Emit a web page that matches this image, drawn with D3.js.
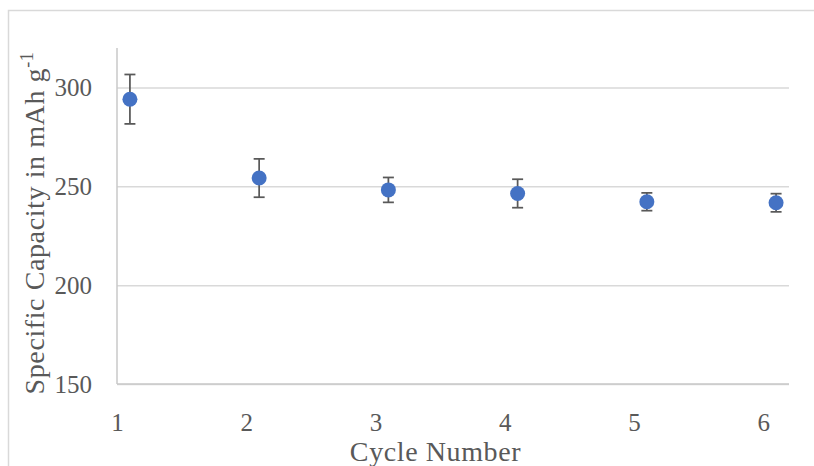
<!DOCTYPE html>
<html>
<head>
<meta charset="utf-8">
<script src="https://cdn.jsdelivr.net/npm/d3@7"></script>
<style>
  html, body { margin: 0; padding: 0; background: #fff; }
  svg { display: block; }
  text { font-family: "Liberation Serif", "Times New Roman", serif; fill: #595959; }
</style>
</head>
<body>
<svg id="chart" width="814" height="466"></svg>
<script>
// Mean specific capacity per cycle with its spread
const cycles = [1.1, 2.1, 3.1, 4.1, 5.1, 6.1];
const capacity = [294.1, 254.2, 248.2, 246.4, 242.2, 241.7];
const spread = [12.5, 9.7, 6.3, 7.2, 4.5, 4.6];
const xTicks = [1, 2, 3, 4, 5, 6];
const yTicks = [150, 200, 250, 300];
const xTitle = "Cycle Number";
const yTitle = "Specific Capacity in mAh g";
const yTitleSup = "-1";

const svg = d3.select("#chart");
const plot = { left: 117, right: 789, top: 48, bottom: 384 };

const x = d3.scaleLinear().domain([1, 6.2]).range([plot.left, plot.right]);
const y = d3.scaleLinear().domain([150, 320]).range([plot.bottom, plot.top]);

// outer frame of the chart area
svg.append("rect")
  .attr("x", 8.5).attr("y", 10.5)
  .attr("width", 900).attr("height", 600)
  .attr("fill", "none").attr("stroke", "#d9d9d9").attr("stroke-width", 1.5);

// horizontal gridlines
const yAxis = d3.axisLeft(y).tickValues(yTicks)
  .tickSize(-(plot.right - plot.left)).tickPadding(25).tickFormat(d3.format("d"));
const gy = svg.append("g").attr("transform", `translate(${plot.left},0)`).call(yAxis);
gy.select(".domain").remove();
gy.selectAll(".tick line").attr("stroke", "#d9d9d9").attr("stroke-width", 1.5);
gy.selectAll(".tick text")
  .attr("font-size", 25).attr("fill", "#595959")
  .style("font-family", '"Liberation Serif", serif');

// axis lines
svg.append("line")
  .attr("x1", plot.left).attr("x2", plot.left)
  .attr("y1", plot.top).attr("y2", plot.bottom)
  .attr("stroke", "#c8c8c8").attr("stroke-width", 1.5);
svg.append("line")
  .attr("x1", plot.left).attr("x2", plot.right)
  .attr("y1", plot.bottom).attr("y2", plot.bottom)
  .attr("stroke", "#c8c8c8").attr("stroke-width", 1.5);

// x tick labels
const xAxis = d3.axisBottom(x).tickValues(xTicks).tickSize(0).tickPadding(29).tickFormat(d3.format("d"));
const gx = svg.append("g").attr("transform", `translate(0,${plot.bottom})`).call(xAxis);
gx.select(".domain").remove();
gx.selectAll(".tick text")
  .attr("font-size", 25).attr("fill", "#595959")
  .style("font-family", '"Liberation Serif", serif');

// error bars
const pts = cycles.map((c, i) => ({ c, v: capacity[i], e: spread[i] }));
const cap = 5.5;
const eb = svg.append("g").attr("stroke", "#595959").attr("stroke-width", 1.75);
eb.selectAll(".stem").data(pts).join("line")
  .attr("x1", d => x(d.c)).attr("x2", d => x(d.c))
  .attr("y1", d => y(d.v + d.e)).attr("y2", d => y(d.v - d.e));
eb.selectAll(".top").data(pts).join("line")
  .attr("x1", d => x(d.c) - cap).attr("x2", d => x(d.c) + cap)
  .attr("y1", d => y(d.v + d.e)).attr("y2", d => y(d.v + d.e));
eb.selectAll(".bot").data(pts).join("line")
  .attr("x1", d => x(d.c) - cap).attr("x2", d => x(d.c) + cap)
  .attr("y1", d => y(d.v - d.e)).attr("y2", d => y(d.v - d.e));

// markers
svg.append("g").selectAll("circle").data(pts).join("circle")
  .attr("cx", d => x(d.c)).attr("cy", d => y(d.v))
  .attr("r", 7.5).attr("fill", "#4472c4");

// axis titles
svg.append("text")
  .attr("x", 435.5).attr("y", 461)
  .attr("text-anchor", "middle").attr("font-size", 28)
  .attr("letter-spacing", 0.6)
  .text(xTitle);

const yt = svg.append("text")
  .attr("transform", "translate(44,223) rotate(-90)")
  .attr("text-anchor", "middle").attr("font-size", 28)
  .attr("letter-spacing", 0.6);
yt.append("tspan").text(yTitle);
yt.append("tspan").attr("font-size", 18).attr("dy", -11).text(yTitleSup);
</script>
</body>
</html>
